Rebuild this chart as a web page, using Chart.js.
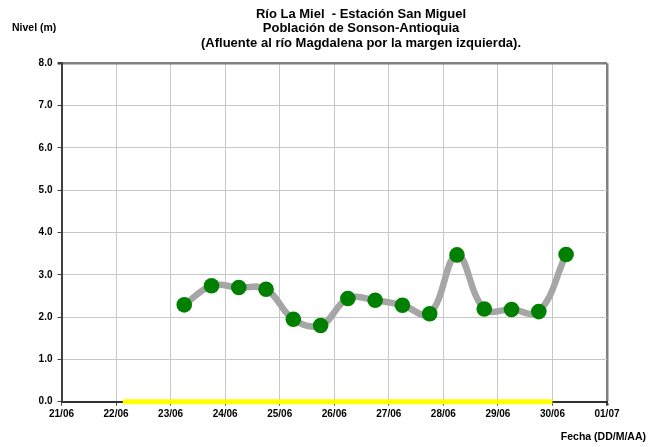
<!DOCTYPE html>
<html>
<head>
<meta charset="utf-8">
<script src="https://cdn.jsdelivr.net/npm/chart.js@4/dist/chart.umd.min.js"></script>
<style>
  html, body { margin: 0; padding: 0; background: #fff; }
  #wrap { width: 658px; height: 447px; }
</style>
</head>
<body>
<div id="wrap"><canvas id="c" width="658" height="447"></canvas></div>
<script>
// ---- data ----
const titleLines = ['Río La Miel  - Estación San Miguel', 'Población de Sonson-Antioquia', '(Afluente al río Magdalena por la margen izquierda).'];
const yAxisTitle = 'Nivel (m)';
const xAxisTitle = 'Fecha (DD/M/AA)';
const tickLabels = ['21/06', '22/06', '23/06', '24/06', '25/06', '26/06', '27/06', '28/06', '29/06', '30/06', '01/07'];
const fechas = ['23/06 06:00', '23/06 18:00', '24/06 06:00', '24/06 18:00', '25/06 06:00', '25/06 18:00',
                '26/06 06:00', '26/06 18:00', '27/06 06:00', '27/06 18:00', '28/06 06:00', '28/06 18:00',
                '29/06 06:00', '29/06 18:00', '30/06 06:00'];
const nivel = [2.29, 2.74, 2.70, 2.66, 1.95, 1.80, 2.44, 2.40, 2.28, 2.08, 3.47, 2.19, 2.18, 2.13, 3.48];
const umbralFechas = ['22/06 03:00', '30/06 00:00'];
const umbralNivel = [0, 0];

// convert 'DD/06 HH:MM' into days since 21/06 00:00
function toDays(s) {
  const [d, t] = s.split(' ');
  const dd = parseInt(d.split('/')[0], 10);
  const [hh, mm] = t.split(':').map(Number);
  return (dd - 21) + (hh + mm / 60) / 24;
}

const FONT = 'Arial, "Liberation Sans", sans-serif';

const texts = {
  id: 'texts',
  afterDraw(chart) {
    const ctx = chart.ctx;
    ctx.save();
    ctx.fillStyle = '#000';
    // title
    ctx.font = 'bold 13px ' + FONT;
    ctx.textAlign = 'center';
    ctx.textBaseline = 'alphabetic';
    const baselines = [18, 32.3, 46.6];
    titleLines.forEach((t, i) => ctx.fillText(t, 361, baselines[i]));
    // axis titles
    ctx.font = 'bold 10.5px ' + FONT;
    ctx.textBaseline = 'middle';
    ctx.textAlign = 'left';
    ctx.fillText(yAxisTitle, 12, 28);
    ctx.textAlign = 'right';
    ctx.fillText(xAxisTitle, 646, 437);
    ctx.restore();
  }
};

const whiteBg = {
  id: 'whiteBg',
  beforeDraw(chart) {
    const ctx = chart.ctx;
    ctx.save();
    ctx.fillStyle = '#fff';
    ctx.fillRect(0, 0, chart.width, chart.height);
    ctx.restore();
  }
};

new Chart(document.getElementById('c'), {
  type: 'line',
  data: {
    datasets: [
      {
        label: 'Nivel',
        data: fechas.map((f, i) => ({ x: toDays(f), y: nivel[i] })),
        borderColor: '#A6A6A6',
        borderWidth: 6.5,
        tension: 0.4,
        pointRadius: 7.8,
        pointHoverRadius: 7.8,
        pointBackgroundColor: '#008000',
        pointBorderColor: '#008000',
        pointBorderWidth: 0,
        clip: false,
        order: 1
      },
      {
        label: 'Umbral',
        data: umbralFechas.map((f, i) => ({ x: toDays(f), y: umbralNivel[i] })),
        borderColor: '#FFFF00',
        borderWidth: 5,
        pointRadius: 0,
        tension: 0,
        clip: false,
        order: 2
      }
    ]
  },
  options: {
    responsive: false,
    animation: false,
    devicePixelRatio: 1,
    layout: { padding: { left: 0, right: 51, top: 63.3, bottom: 0 } },
    plugins: {
      legend: { display: false },
      tooltip: { enabled: false },
      title: { display: false }
    },
    scales: {
      x: {
        type: 'linear',
        min: 0,
        max: 10,
        afterFit(s) { s.height = 45.3; },
        ticks: {
          stepSize: 1,
          autoSkip: false,
          maxRotation: 0,
          padding: 3,
          color: '#000',
          font: { family: FONT, size: 10, weight: 'bold' },
          callback: (v) => tickLabels[v]
        },
        grid: {
          color: (c) => (c.tick && c.tick.value === 10 ? '#808080' : '#C8C8C8'),
          lineWidth: (c) => (c.tick && c.tick.value === 10 ? 2.5 : 1),
          tickColor: '#404040',
          tickLength: 4,
          drawOnChartArea: true
        },
        border: { color: '#303030', width: 2 }
      },
      y: {
        min: 0,
        max: 8,
        afterFit(s) { s.width = 61.5; },
        ticks: {
          stepSize: 1,
          padding: 5,
          color: '#000',
          font: { family: FONT, size: 10, weight: 'bold' },
          callback: (v) => Number(v).toFixed(1)
        },
        grid: {
          color: (c) => (c.tick && c.tick.value === 8 ? '#808080' : '#C8C8C8'),
          lineWidth: (c) => (c.tick && c.tick.value === 8 ? 2.5 : 1),
          tickColor: '#404040',
          tickLength: 4
        },
        border: { color: '#404040', width: 2 }
      }
    }
  },
  plugins: [whiteBg, texts]
});
</script>
</body>
</html>
